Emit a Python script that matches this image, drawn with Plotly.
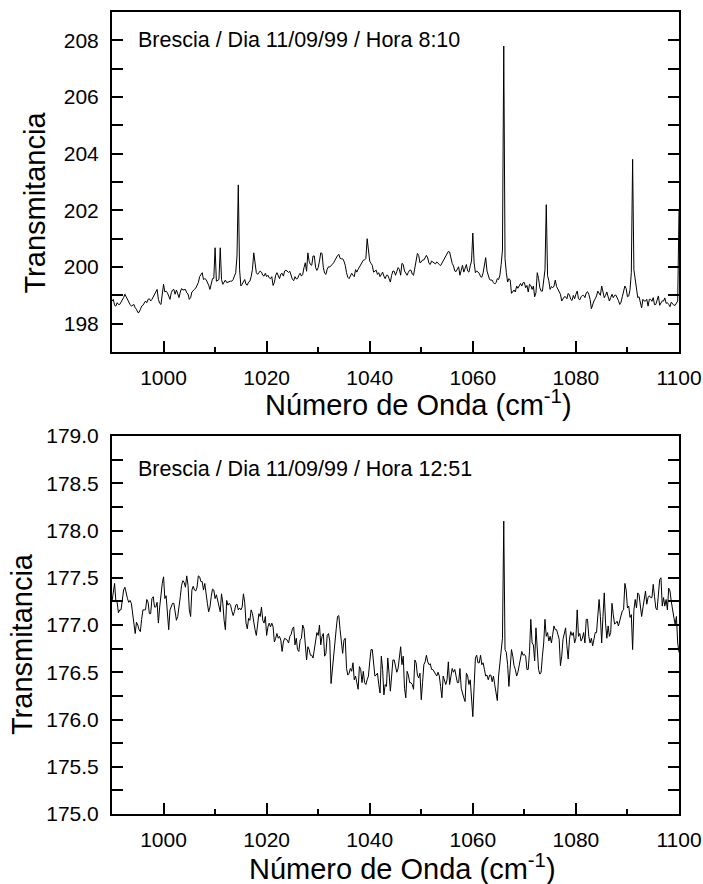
import numpy as np
import plotly.graph_objects as go

# Wavenumber sampling (cm-1): main grid and the in-between samples
wn_grid = np.arange(990.0, 1100.01, 0.5)      # 990.0, 990.5, ..., 1100.0
wn_mid = np.arange(990.25, 1100.0, 0.5)       # 990.25, 990.75, ..., 1099.75

# ---- Brescia 11/09/99 08:10 : values ----
trans_0810_grid = [
    198.80, 198.65, 198.74, 198.68, 198.80, 199.04, 198.86, 198.68, 198.65, 198.56,
    198.40, 198.50, 198.65, 198.80, 198.86, 198.80, 198.95, 199.12, 198.86, 198.68,
    199.39, 199.15, 198.98, 199.09, 199.21, 199.19, 198.92, 199.24, 199.19, 199.09,
    198.86, 199.12, 199.21, 199.35, 199.66, 199.80, 199.59, 199.47, 199.21, 199.59,
    200.68, 199.54, 200.68, 199.39, 199.54, 199.47, 199.50, 199.56, 199.80, 202.90,
    199.33, 199.50, 199.39, 199.47, 199.66, 200.50, 199.80, 199.80, 199.82, 199.68,
    199.66, 199.62, 199.66, 199.45, 199.80, 199.59, 199.78, 199.86, 199.86, 199.85,
    199.56, 199.66, 199.59, 199.78, 199.74, 200.15, 200.50, 200.09, 200.39, 199.98,
    199.98, 200.50, 199.98, 199.74, 200.01, 200.04, 200.15, 200.33, 200.45, 200.29,
    200.21, 199.80, 199.59, 199.78, 199.66, 199.82, 200.01, 200.15, 200.25, 201.00,
    200.21, 200.06, 199.86, 199.74, 199.66, 199.82, 199.59, 199.71, 199.47, 199.86,
    199.71, 199.98, 199.71, 200.09, 199.80, 199.82, 199.89, 199.71, 200.27, 200.41,
    200.18, 200.25, 200.41, 200.13, 200.21, 200.13, 200.18, 200.09, 200.13, 200.29,
    200.45, 200.53, 200.13, 199.86, 199.92, 199.71, 200.06, 199.94, 199.86, 200.04,
    201.20, 199.80, 199.82, 199.66, 199.80, 200.33, 199.71, 199.54, 199.45, 199.45,
    199.56, 200.09, 207.80, 199.80, 199.59, 199.07, 199.19, 199.33, 199.33, 199.33,
    199.45, 199.35, 199.39, 199.21, 198.95, 199.80, 199.27, 199.15, 199.90, 199.70,
    199.21, 199.27, 199.54, 199.21, 199.04, 198.86, 198.95, 199.07, 198.86, 199.00,
    199.04, 198.88, 198.95, 199.00, 199.09, 199.04, 198.53, 198.80, 198.98, 199.09,
    199.33, 198.92, 199.12, 198.80, 199.04, 199.00, 198.92, 198.68, 198.95, 199.33,
    198.95, 199.20, 203.80, 199.60, 198.92, 198.80, 198.86, 198.80, 198.62, 198.86,
    198.92, 198.68, 198.98, 198.74, 198.80, 198.72, 198.68, 198.76, 198.65, 198.74,
    202.00,
]
trans_0810_mid = [
    198.86, 198.62, 198.68, 198.76, 198.92, 198.95, 198.74, 198.62, 198.68, 198.51,
    198.40, 198.62, 198.72, 198.74, 198.88, 198.86, 199.04, 199.21, 198.72, 199.04,
    199.12, 199.09, 198.86, 199.19, 199.04, 199.07, 199.12, 199.19, 199.21, 199.05,
    198.92, 199.15, 199.26, 199.45, 199.74, 199.56, 199.56, 199.36, 199.45, 199.60,
    199.50, 199.56, 199.56, 199.45, 199.45, 199.47, 199.50, 199.68, 200.39, 199.92,
    199.39, 199.56, 199.36, 199.50, 199.92, 200.04, 199.74, 199.86, 199.71, 199.78,
    199.71, 199.59, 199.35, 199.71, 199.68, 199.75, 199.68, 199.89, 199.81, 199.73,
    199.52, 199.58, 199.71, 199.68, 199.98, 199.85, 200.20, 200.06, 200.39, 199.88,
    200.21, 200.48, 199.78, 199.92, 200.00, 200.09, 200.24, 200.40, 200.31, 200.29,
    200.06, 199.64, 199.68, 199.71, 199.91, 199.92, 200.11, 200.24, 200.30, 200.45,
    200.13, 199.82, 199.89, 199.80, 199.74, 199.68, 199.71, 199.59, 199.71, 199.85,
    199.84, 199.92, 200.13, 199.86, 199.71, 199.89, 199.75, 199.98, 200.48, 200.15,
    200.25, 200.33, 200.32, 200.09, 200.18, 200.11, 200.15, 200.05, 200.18, 200.36,
    200.55, 200.25, 200.04, 199.84, 200.01, 199.94, 199.82, 200.09, 199.82, 200.21,
    200.15, 199.86, 199.78, 199.64, 200.04, 199.86, 199.56, 199.54, 199.40, 199.59,
    199.71, 200.60, 200.30, 199.47, 199.54, 199.15, 199.12, 199.25, 199.42, 199.45,
    199.27, 199.12, 199.35, 199.33, 199.09, 199.60, 199.15, 199.45, 202.20, 199.51,
    199.31, 199.33, 199.31, 199.12, 198.80, 198.95, 198.88, 199.01, 198.82, 198.88,
    199.15, 198.84, 199.00, 198.92, 199.13, 198.86, 198.68, 198.88, 199.15, 199.00,
    199.09, 199.00, 198.95, 198.92, 198.92, 199.01, 198.82, 198.76, 199.15, 199.24,
    198.98, 199.80, 199.90, 199.21, 198.95, 198.56, 198.80, 198.86, 198.86, 198.79,
    198.67, 198.89, 198.65, 198.81, 198.91, 198.74, 198.60, 198.72, 198.65, 198.80,
]

# ---- Brescia 11/09/99 12:51 : values ----
trans_1251_grid = [
    177.25, 177.44, 177.24, 177.16, 177.26, 177.40, 177.28, 177.26, 177.14, 176.91,
    177.00, 176.93, 177.16, 177.16, 177.24, 177.12, 177.30, 177.19, 177.02, 177.33,
    177.51, 177.31, 176.95, 177.21, 177.23, 177.05, 177.23, 177.42, 177.45, 177.52,
    177.16, 177.37, 177.37, 177.40, 177.51, 177.46, 177.44, 177.23, 177.19, 177.38,
    177.28, 177.26, 177.14, 177.23, 176.95, 177.21, 177.21, 177.10, 177.21, 177.16,
    177.16, 177.33, 177.02, 177.07, 177.16, 177.02, 176.89, 177.12, 177.19, 177.02,
    176.89, 177.02, 177.02, 176.82, 176.91, 176.88, 176.72, 176.86, 176.84, 176.88,
    176.96, 176.79, 176.74, 176.84, 177.00, 176.75, 176.77, 176.68, 176.65, 176.82,
    176.89, 176.79, 176.91, 176.70, 176.91, 176.38, 176.74, 176.96, 177.10, 176.81,
    176.84, 176.54, 176.49, 176.51, 176.42, 176.39, 176.56, 176.39, 176.39, 176.42,
    176.61, 176.74, 176.46, 176.49, 176.28, 176.53, 176.37, 176.65, 176.30, 176.63,
    176.58, 176.54, 176.77, 176.67, 176.23, 176.47, 176.39, 176.32, 176.60, 176.44,
    176.21, 176.58, 176.68, 176.58, 176.53, 176.51, 176.46, 176.46, 176.23, 176.42,
    176.42, 176.37, 176.54, 176.53, 176.39, 176.54, 176.26, 176.19, 176.46, 176.42,
    176.03, 176.65, 176.60, 176.68, 176.60, 176.46, 176.42, 176.47, 176.46, 176.25,
    176.46, 176.71, 178.10, 176.71, 176.35, 176.74, 176.57, 176.46, 176.58, 176.72,
    176.69, 176.53, 176.72, 176.81, 176.62, 176.67, 176.48, 176.67, 177.06, 176.92,
    176.88, 176.90, 176.95, 176.90, 176.57, 176.85, 176.97, 176.64, 176.93, 176.92,
    176.86, 176.88, 176.83, 176.92, 177.06, 176.88, 176.86, 176.86, 176.92, 177.27,
    176.81, 177.34, 176.86, 176.88, 177.23, 177.01, 177.04, 177.04, 177.15, 177.44,
    177.18, 177.08, 176.74, 177.27, 177.34, 177.23, 177.18, 177.36, 177.29, 177.29,
    177.43, 177.18, 177.29, 177.50, 177.29, 177.27, 177.39, 177.25, 177.08, 177.09,
    176.71,
]
trans_1251_mid = [
    177.35, 177.25, 177.13, 177.16, 177.37, 177.33, 177.24, 177.23, 177.05, 177.03,
    176.95, 177.06, 177.16, 177.27, 177.12, 177.28, 177.19, 177.24, 177.19, 177.44,
    177.28, 177.12, 177.16, 177.23, 177.16, 177.09, 177.30, 177.47, 177.40, 177.42,
    177.09, 177.41, 177.36, 177.52, 177.46, 177.37, 177.30, 177.14, 177.30, 177.37,
    177.32, 177.19, 177.33, 177.05, 177.26, 177.23, 177.15, 177.14, 177.22, 177.18,
    177.19, 177.24, 176.96, 177.05, 177.12, 176.95, 177.00, 177.09, 177.05, 177.09,
    176.98, 176.98, 176.98, 176.86, 176.86, 176.84, 176.82, 176.85, 176.81, 176.90,
    176.98, 176.86, 176.72, 176.86, 176.96, 176.63, 176.74, 176.68, 176.74, 176.92,
    177.00, 176.88, 176.67, 176.89, 176.83, 176.53, 176.89, 177.09, 176.95, 176.70,
    176.86, 176.47, 176.54, 176.60, 176.46, 176.32, 176.53, 176.51, 176.37, 176.46,
    176.74, 176.56, 176.47, 176.37, 176.67, 176.26, 176.35, 176.49, 176.46, 176.63,
    176.50, 176.67, 176.58, 176.33, 176.51, 176.39, 176.37, 176.63, 176.47, 176.49,
    176.39, 176.61, 176.61, 176.59, 176.53, 176.48, 176.50, 176.35, 176.46, 176.37,
    176.61, 176.46, 176.50, 176.46, 176.39, 176.33, 176.23, 176.49, 176.37, 176.21,
    176.35, 176.68, 176.60, 176.58, 176.53, 176.47, 176.47, 176.40, 176.37, 176.20,
    176.59, 176.86, 176.74, 176.58, 176.60, 176.67, 176.53, 176.50, 176.64, 176.68,
    176.67, 176.53, 177.06, 176.79, 176.97, 176.53, 176.50, 176.81, 176.88, 176.83,
    176.81, 176.99, 176.95, 176.85, 176.67, 176.92, 176.78, 176.85, 176.89, 176.81,
    177.16, 176.91, 176.86, 176.81, 177.06, 176.81, 176.78, 176.92, 177.13, 177.09,
    177.09, 177.02, 176.99, 176.92, 177.11, 177.02, 176.99, 177.11, 177.16, 177.37,
    177.20, 177.11, 177.16, 177.18, 177.32, 177.09, 177.30, 177.22, 177.31, 177.29,
    177.30, 177.16, 177.48, 177.20, 177.20, 177.16, 177.36, 177.15, 177.01, 176.81,
]

x_ticks = [1000, 1020, 1040, 1060, 1080, 1100]
x_top_ticks = [1000, 1010, 1020, 1030, 1040, 1050, 1060, 1070, 1080, 1090]
y1_ticks = [198, 200, 202, 204, 206, 208]
y2_ticks = [175.0, 175.5, 176.0, 176.5, 177.0, 177.5, 178.0, 178.5, 179.0]

label_top = "Brescia / Dia 11/09/99 / Hora 8:10"
label_bottom = "Brescia / Dia 11/09/99 / Hora 12:51"
x_title = "Número de Onda (cm<sup>-1</sup>)"
y_title = "Transmitancia"

FONT = "Liberation Sans, Arial, sans-serif"
BLACK = "#000000"


def merge(grid_vals, mid_vals):
    """Put the grid samples and the in-between samples in wavenumber order."""
    xs = np.empty(len(wn_grid) + len(wn_mid))
    ys = np.empty_like(xs)
    xs[0::2], xs[1::2] = wn_grid, wn_mid
    ys[0::2], ys[1::2] = grid_vals, mid_vals
    return xs, ys


x_a, y_a = merge(trans_0810_grid, trans_0810_mid)
x_b, y_b = merge(trans_1251_grid, trans_1251_mid)

fig = go.Figure()
fig.add_trace(go.Scatter(x=x_a, y=y_a, mode="lines",
                         line=dict(color=BLACK, width=1), xaxis="x", yaxis="y",
                         showlegend=False, hoverinfo="skip"))
fig.add_trace(go.Scatter(x=x_b, y=y_b, mode="lines",
                         line=dict(color=BLACK, width=1), xaxis="x2", yaxis="y2",
                         showlegend=False, hoverinfo="skip"))

top_dom = [0.576, 1.0]
bot_dom = [0.0, 0.4713]


def xaxis_cfg(anchor):
    return dict(
        range=[990, 1100], tickvals=x_ticks, ticks="inside", ticklen=11, tickwidth=2,
        tickcolor=BLACK, showline=True, linecolor=BLACK, linewidth=2, mirror=True,
        showgrid=False, zeroline=False, anchor=anchor, domain=[0, 1],
        automargin=False,
        tickfont=dict(family=FONT, size=21, color=BLACK), ticklabelstandoff=6,
        minor=dict(dtick=10, tick0=990, ticks="inside", ticklen=5, tickwidth=2,
                   tickcolor=BLACK, showgrid=False),
    )


def top_ticks_cfg(overlay, anchor):
    return dict(
        range=[990, 1100], overlaying=overlay, anchor=anchor, side="top",
        tickvals=x_top_ticks, automargin=False,
        ticks="inside", ticklen=4, tickwidth=2, tickcolor=BLACK,
        showticklabels=False, showline=False, showgrid=False, zeroline=False,
    )


def yaxis_cfg(anchor, dom, rng, tickvals, minor_dtick, fmt):
    return dict(
        range=rng, domain=dom, anchor=anchor, tickvals=tickvals, tickformat=fmt,
        ticks="inside", ticklen=11, tickwidth=2, tickcolor=BLACK,
        showline=True, linecolor=BLACK, linewidth=2, mirror="ticks",
        showgrid=False, zeroline=False, automargin=False,
        tickfont=dict(family=FONT, size=21, color=BLACK), ticklabelstandoff=7,
        minor=dict(dtick=minor_dtick, tick0=rng[0], ticks="inside", ticklen=11,
                   tickwidth=2, tickcolor=BLACK, showgrid=False),
    )


fig.update_layout(
    width=703, height=884,
    margin=dict(l=112, r=24, t=12, b=70, autoexpand=False),
    paper_bgcolor="white", plot_bgcolor="white",
    xaxis=xaxis_cfg("y"),
    yaxis=yaxis_cfg("x", top_dom, [197, 209], y1_ticks, 1, "d"),
    xaxis2=xaxis_cfg("y2"),
    yaxis2=yaxis_cfg("x2", bot_dom, [175, 179], y2_ticks, 0.25, ".1f"),
    xaxis3=top_ticks_cfg("x", "y"),
    xaxis4=top_ticks_cfg("x2", "y2"),
    font=dict(family=FONT, color=BLACK),
)

annotations = [
    dict(text=label_top, x=0.0423, y=0.965, xanchor="left", yanchor="middle",
         font=dict(size=21.5)),
    dict(text=label_bottom, x=0.0423, y=0.430, xanchor="left", yanchor="middle",
         font=dict(size=21.5)),
    dict(text=x_title, x=0.540, y=0.5125, xanchor="center", yanchor="middle",
         font=dict(size=29)),
    dict(text=x_title, x=0.512, y=-0.066, xanchor="center", yanchor="middle",
         font=dict(size=29)),
    dict(text=y_title, x=-0.135, y=0.763, xanchor="center", yanchor="middle",
         textangle=-90, font=dict(size=29)),
    dict(text=y_title, x=-0.1596, y=0.2113, xanchor="center", yanchor="middle",
         textangle=-90, font=dict(size=29)),
]
for a in annotations:
    a.update(xref="paper", yref="paper", showarrow=False)
    a["font"].update(family=FONT, color=BLACK)
fig.update_layout(annotations=annotations)

fig.write_html("out.html",
               config={"displayModeBar": False},
               post_script="document.body.style.margin='0';"
                           "document.body.style.overflow='hidden';")
